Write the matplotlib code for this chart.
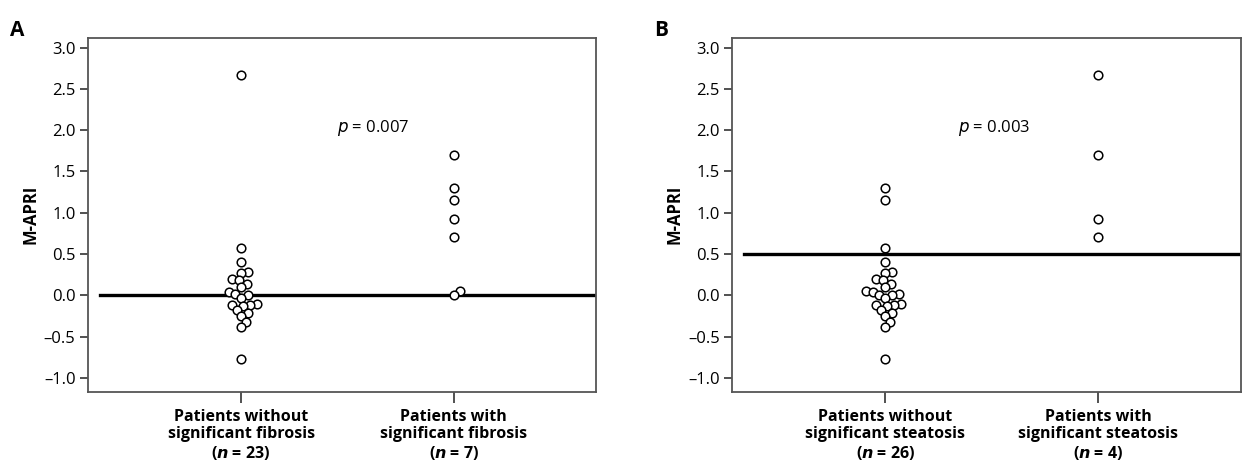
import numpy as np
import matplotlib.pyplot as plt

plt.rcParams['font.family'] = ['Open Sans', 'DejaVu Sans']
plt.rcParams['mathtext.fontset'] = 'custom'

# data
fib_without = [2.67, 0.57, 0.40, 0.28, 0.27, 0.20, 0.18, 0.14, 0.10, 0.04, 0.02, 0.00,
               -0.03, -0.10, -0.12, -0.12, -0.13, -0.18, -0.22, -0.25, -0.32, -0.38, -0.77]
fib_with = [1.70, 1.30, 1.15, 0.92, 0.70, 0.05, 0.00]
ste_without = [1.30, 1.15, 0.57, 0.40, 0.28, 0.27, 0.20, 0.18, 0.14, 0.10, 0.05, 0.04, 0.02,
               0.00, 0.00, -0.03, -0.10, -0.12, -0.12, -0.13, -0.18, -0.22, -0.25, -0.32,
               -0.38, -0.77]
ste_with = [2.67, 1.70, 0.92, 0.70]

cutoffs = [0.0, 0.5]
p_labels = ["0.007", "0.003"]
panel_names = ["A", "B"]
cat_labels = [
    ["Patients without\nsignificant fibrosis\n($\\mathbfit{n}$ = 23)",
     "Patients with\nsignificant fibrosis\n($\\mathbfit{n}$ = 7)"],
    ["Patients without\nsignificant steatosis\n($\\mathbfit{n}$ = 26)",
     "Patients with\nsignificant steatosis\n($\\mathbfit{n}$ = 4)"],
]
groups = [[fib_without, fib_with], [ste_without, ste_with]]

SPACING = 7.0  # min distance between point centres, pixels


def swarm(ax, x0, vals):
    # simple beeswarm in pixel space, then back to data coords
    pts = ax.transData.transform([(x0, v) for v in vals])
    xc = pts[0, 0]
    order = np.argsort(pts[:, 1])
    placed = []
    res = np.zeros_like(pts)
    for i in order:
        y = pts[i, 1]
        cands = [xc]
        for (px, py) in placed:
            dy = abs(py - y)
            if dy < SPACING:
                dx = np.sqrt(SPACING ** 2 - dy ** 2) + 0.01
                cands += [px + dx, px - dx]
        cands.sort(key=lambda c: abs(c - xc))
        for c in cands:
            ok = all((c - px) ** 2 + (y - py) ** 2 >= SPACING ** 2 - 0.05 for px, py in placed)
            if ok:
                break
        placed.append((c, y))
        res[i] = (c, y)
    return ax.transData.inverted().transform(res)


fig = plt.figure(figsize=(12.43, 4.71), dpi=100)
lefts = [0.0708, 0.589]
for k in range(2):
    ax = fig.add_axes([lefts[k], 0.168, 0.409, 0.752])
    ax.set_xlim(0.28, 2.67)
    ax.set_ylim(-1.17, 3.12)
    ax.axhline(cutoffs[k], xmin=0.024, xmax=1, color='black', lw=2.4, zorder=1)
    for j, vals in enumerate(groups[k]):
        xy = swarm(ax, j + 1, vals)
        ax.plot(xy[:, 0], xy[:, 1], 'o', ms=6.2, mfc='white', mec='black', mew=1.1,
                zorder=3, clip_on=False)
    ticks = np.arange(-1.0, 3.01, 0.5)
    ax.set_yticks(ticks)
    ax.set_yticklabels([f"{t:.1f}".replace('-', '\u2013') for t in ticks])
    ax.set_xticks([1, 2])
    ax.set_xticklabels(cat_labels[k], fontweight='bold', fontsize=11.5, linespacing=1.15)
    ax.tick_params(axis='y', length=6, width=1.2, color='#333333', labelsize=12, pad=3)
    ax.tick_params(axis='x', length=8, width=1.2, color='#333333', pad=4)
    for s in ax.spines.values():
        s.set_color('#555555')
        s.set_linewidth(1.3)
    ax.set_ylabel("M-APRI", fontweight='bold', fontsize=12, labelpad=3)
    pos = 1.62 if k == 0 else 1.51
    ax.text(pos, 2.03, "$\\it{p}$ = " + p_labels[k], fontsize=12, ha='center', va='center')
    fig.text(lefts[k] - 0.063, 0.935, panel_names[k], fontsize=15, fontweight='bold',
             ha='left', va='center')

fig.savefig("out.png", dpi=100)
